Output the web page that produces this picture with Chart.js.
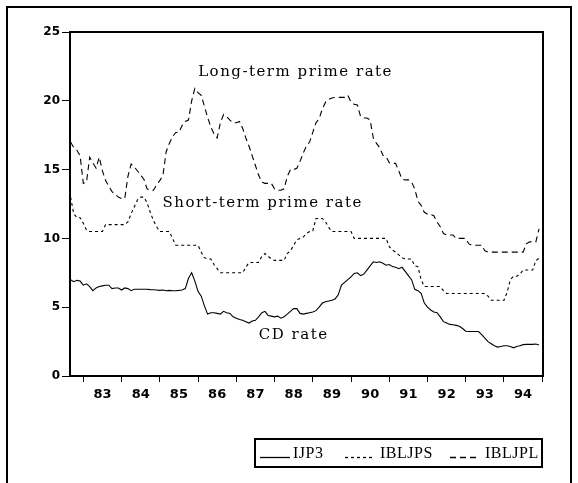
<!DOCTYPE html>
<html>
<head>
<meta charset="utf-8">
<script src="https://cdn.jsdelivr.net/npm/chart.js@4.4.1/dist/chart.umd.min.js"></script>
<style>
  html, body { margin: 0; padding: 0; background: #fff; }
  canvas { display: block; }
</style>
</head>
<body>
<canvas id="c" width="578" height="483"></canvas>
<script>
// ---- data (monthly, starting 1982:09) ----
const startYear = 1982;
const startMonth = 9;

const seriesNames = ['IJP3', 'IBLJPS', 'IBLJPL'];

// CD rate (IJP3)
const ijp3 = [
  7.0, 6.85, 6.95, 6.9, 6.6, 6.7, 6.5, 6.2, 6.4, 6.5,
  6.55, 6.6, 6.6, 6.35, 6.4, 6.4, 6.25, 6.4, 6.35, 6.2,
  6.3, 6.3, 6.3, 6.3, 6.3, 6.28, 6.27, 6.25, 6.22, 6.25,
  6.2, 6.22, 6.2, 6.2, 6.22, 6.25, 6.35, 7.1, 7.5, 6.9,
  6.15, 5.8, 5.1, 4.5, 4.6, 4.6, 4.55, 4.5, 4.7, 4.6,
  4.55, 4.3, 4.2, 4.1, 4.05, 3.95, 3.85, 4.0, 4.05, 4.3,
  4.6, 4.7, 4.4, 4.35, 4.3, 4.35, 4.2, 4.3, 4.5, 4.7,
  4.9, 4.9, 4.55, 4.5, 4.55, 4.6, 4.65, 4.75, 5.0, 5.3,
  5.4, 5.45, 5.5, 5.6, 5.9, 6.6, 6.8, 7.0, 7.2, 7.45,
  7.5, 7.3, 7.4, 7.7, 8.0, 8.3, 8.25, 8.3, 8.2, 8.05,
  8.1, 7.95, 7.9, 7.8, 7.9, 7.6, 7.3, 7.0, 6.3, 6.2,
  6.0, 5.3, 5.0, 4.8, 4.65, 4.6, 4.3, 3.95, 3.85, 3.75,
  3.72, 3.68, 3.62, 3.45, 3.25, 3.23, 3.23, 3.23, 3.23, 3.0,
  2.75, 2.5, 2.35, 2.2, 2.1, 2.15, 2.2, 2.2, 2.15, 2.05,
  2.15, 2.2, 2.28, 2.3, 2.3, 2.3, 2.32, 2.25
];

// Short-term prime rate (IBLJPS)
const ibljps = [
  13.0, 11.8, 11.5, 11.5, 11.1, 10.6, 10.5, 10.5, 10.5, 10.5,
  10.5, 11.0, 11.0, 11.0, 11.0, 11.0, 11.0, 11.0, 11.2, 11.8,
  12.3, 12.8, 13.0, 13.0, 12.6, 11.9, 11.3, 10.85, 10.5, 10.5,
  10.5, 10.5, 10.0, 9.5, 9.5, 9.5, 9.5, 9.5, 9.5, 9.5,
  9.5, 9.0, 8.6, 8.5, 8.5, 8.1, 7.8, 7.5, 7.5, 7.5,
  7.5, 7.5, 7.5, 7.5, 7.5, 7.9, 8.25, 8.25, 8.25, 8.25,
  8.7, 8.9, 8.7, 8.5, 8.4, 8.4, 8.4, 8.4, 8.9, 9.1,
  9.5, 9.9, 10.0, 10.1, 10.35, 10.5, 10.55, 11.45, 11.45, 11.45,
  11.2, 10.8, 10.5, 10.5, 10.5, 10.5, 10.5, 10.5, 10.5, 10.0,
  10.0, 10.0, 10.0, 10.0, 10.0, 10.0, 10.0, 10.0, 10.0, 10.0,
  9.4, 9.15, 9.0, 8.8, 8.6, 8.5, 8.5, 8.5, 8.0, 7.95,
  7.0, 6.5, 6.5, 6.5, 6.5, 6.5, 6.5, 6.2, 6.0, 6.0,
  6.0, 6.0, 6.0, 6.0, 6.0, 6.0, 6.0, 6.0, 6.0, 6.0,
  6.0, 5.8, 5.5, 5.5, 5.5, 5.5, 5.5, 6.1, 7.0, 7.25,
  7.25, 7.4, 7.7, 7.7, 7.7, 7.7, 8.4, 8.55
];

// Long-term prime rate (IBLJPL)
const ibljpl = [
  17.0, 16.6, 16.4, 16.0, 14.0, 14.1, 15.9, 15.5, 15.1, 15.9,
  14.9, 14.2, 13.8, 13.4, 13.2, 13.0, 12.9, 12.9, 14.5, 15.4,
  15.2, 14.9, 14.6, 14.3, 13.6, 13.5, 13.5, 13.9, 14.2, 14.6,
  16.3, 16.9, 17.4, 17.7, 17.7, 18.2, 18.5, 18.6, 20.0, 20.9,
  20.6, 20.4, 19.6, 18.8, 18.1, 17.6, 17.3, 18.4, 19.0, 18.85,
  18.6, 18.4, 18.4, 18.5, 18.0, 17.3, 16.7, 16.0, 15.3, 14.6,
  14.1, 14.0, 14.0, 14.0, 13.6, 13.5, 13.5, 13.6, 14.5, 15.0,
  15.0, 15.1, 15.6, 16.2, 16.7, 17.0, 17.7, 18.4, 18.7, 19.4,
  19.9, 20.1, 20.2, 20.25, 20.25, 20.25, 20.25, 20.4, 19.9, 19.75,
  19.7, 18.85, 18.75, 18.75, 18.6, 17.3, 16.9, 16.6, 16.05, 15.95,
  15.5, 15.45, 15.45, 14.9, 14.3, 14.25, 14.25, 14.1, 13.6, 12.7,
  12.4, 11.9, 11.75, 11.75, 11.65, 11.2, 10.85, 10.35, 10.25, 10.25,
  10.25, 10.0, 10.0, 10.0, 10.0, 9.6, 9.5, 9.5, 9.5, 9.5,
  9.1, 9.0, 9.0, 9.0, 9.0, 9.0, 9.0, 9.0, 9.0, 9.0,
  9.0, 9.0, 9.0, 9.6, 9.75, 9.75, 9.75, 10.7
];

// axis ticks
const yearTicks = [1983, 1984, 1985, 1986, 1987, 1988, 1989, 1990, 1991, 1992, 1993, 1994, 1995];
const yearLabels = ['83', '84', '85', '86', '87', '88', '89', '90', '91', '92', '93', '94'];
const yTicks = [0, 5, 10, 15, 20, 25];

// in-plot annotations (data coordinates: year, value)
const noteTexts = ['Long-term prime rate', 'Short-term prime rate', 'CD rate'];
const noteX = [1988.55, 1987.69, 1988.5];
const noteY = [22.1, 12.55, 3.0];

// ---- build ----
function toPoints(values) {
  return values.map((v, i) => ({ x: startYear + (startMonth - 1) / 12 + i / 12, y: v }));
}

const dashes = [[], [3, 3], [6, 4]];
const allSeries = [ijp3, ibljps, ibljpl];

const datasets = allSeries.map((vals, k) => ({
  label: seriesNames[k],
  data: toPoints(vals),
  borderColor: '#000',
  borderWidth: 1.1,
  borderDash: dashes[k],
  pointRadius: 0,
  tension: 0,
  fill: false,
  xAxisID: 'x',
  yAxisID: 'y'
}));

const decor = {
  id: 'decor',
  beforeDraw(chart) {
    const ctx = chart.ctx;
    ctx.save();
    ctx.fillStyle = '#fff';
    ctx.fillRect(0, 0, chart.width, chart.height);
    ctx.restore();
  },
  afterDraw(chart) {
    const { ctx, chartArea: a, scales } = chart;
    ctx.save();
    ctx.strokeStyle = '#000';
    ctx.setLineDash([]);
    // outer frame
    ctx.lineWidth = 2;
    ctx.strokeRect(7, 7, 564, 540);
    // plot frame
    ctx.lineWidth = 2;
    ctx.strokeRect(a.left, a.top, a.right - a.left, a.bottom - a.top);

    // annotations
    ctx.fillStyle = '#000';
    ctx.font = '15px "DejaVu Serif"';
    ctx.letterSpacing = '1.5px';
    ctx.textAlign = 'center';
    ctx.textBaseline = 'middle';
    noteTexts.forEach((t, i) => {
      ctx.fillText(t, scales.x.getPixelForValue(noteX[i]), scales.y.getPixelForValue(noteY[i]));
    });

    // legend
    ctx.letterSpacing = '0.5px';
    ctx.lineWidth = 2;
    ctx.strokeRect(255, 439, 287, 28);
    const sampleX = [[260, 290], [345, 373], [450, 480]];
    const textX = [293, 380, 485];
    ctx.font = '16px "Liberation Serif"';
    ctx.textAlign = 'left';
    ctx.textBaseline = 'alphabetic';
    datasets.forEach((ds, k) => {
      ctx.beginPath();
      ctx.lineWidth = 1.3;
      ctx.setLineDash(ds.borderDash);
      ctx.moveTo(sampleX[k][0], 457.5);
      ctx.lineTo(sampleX[k][1], 457.5);
      ctx.stroke();
      ctx.setLineDash([]);
      ctx.fillText(ds.label, textX[k], 458);
    });
    ctx.restore();
  }
};

new Chart(document.getElementById('c'), {
  type: 'line',
  data: { datasets },
  options: {
    responsive: false,
    animation: false,
    devicePixelRatio: 1,
    layout: { padding: { left: 0, top: 32, right: 35, bottom: 77 } },
    plugins: { legend: { display: false }, tooltip: { enabled: false } },
    scales: {
      x: {
        type: 'linear',
        position: 'bottom',
        min: 1982.652,
        max: 1995.02,
        afterBuildTicks: (s) => { s.ticks = yearTicks.map(v => ({ value: v })); },
        afterFit: (s) => { s.height = 6; },
        grid: { display: true, drawOnChartArea: false, drawTicks: true, tickLength: 6, color: '#000', lineWidth: 1 },
        border: { display: false },
        ticks: { display: false }
      },
      x2: {
        type: 'linear',
        position: 'bottom',
        min: 1982.652,
        max: 1995.02,
        afterBuildTicks: (s) => { s.ticks = yearLabels.map((l, i) => ({ value: yearTicks[i] + 0.5 })); },
        afterFit: (s) => { s.height = 24; },
        grid: { display: false, drawTicks: false },
        border: { display: false },
        ticks: {
          color: '#000',
          font: { family: 'DejaVu Sans', size: 13, weight: 'bold' },
          padding: 5,
          maxRotation: 0,
          autoSkip: false,
          callback: (v, i) => yearLabels[i]
        }
      },
      y: {
        type: 'linear',
        min: 0,
        max: 25,
        afterBuildTicks: (s) => { s.ticks = yTicks.map(v => ({ value: v })); },
        afterFit: (s) => { s.width = 70; },
        grid: { display: true, drawOnChartArea: false, drawTicks: true, tickLength: 8, color: '#000', lineWidth: 1 },
        border: { display: false },
        ticks: {
          color: '#000',
          font: { family: 'DejaVu Sans', size: 12, weight: 'bold' },
          padding: 2
        }
      }
    }
  },
  plugins: [decor]
});
</script>
</body>
</html>
